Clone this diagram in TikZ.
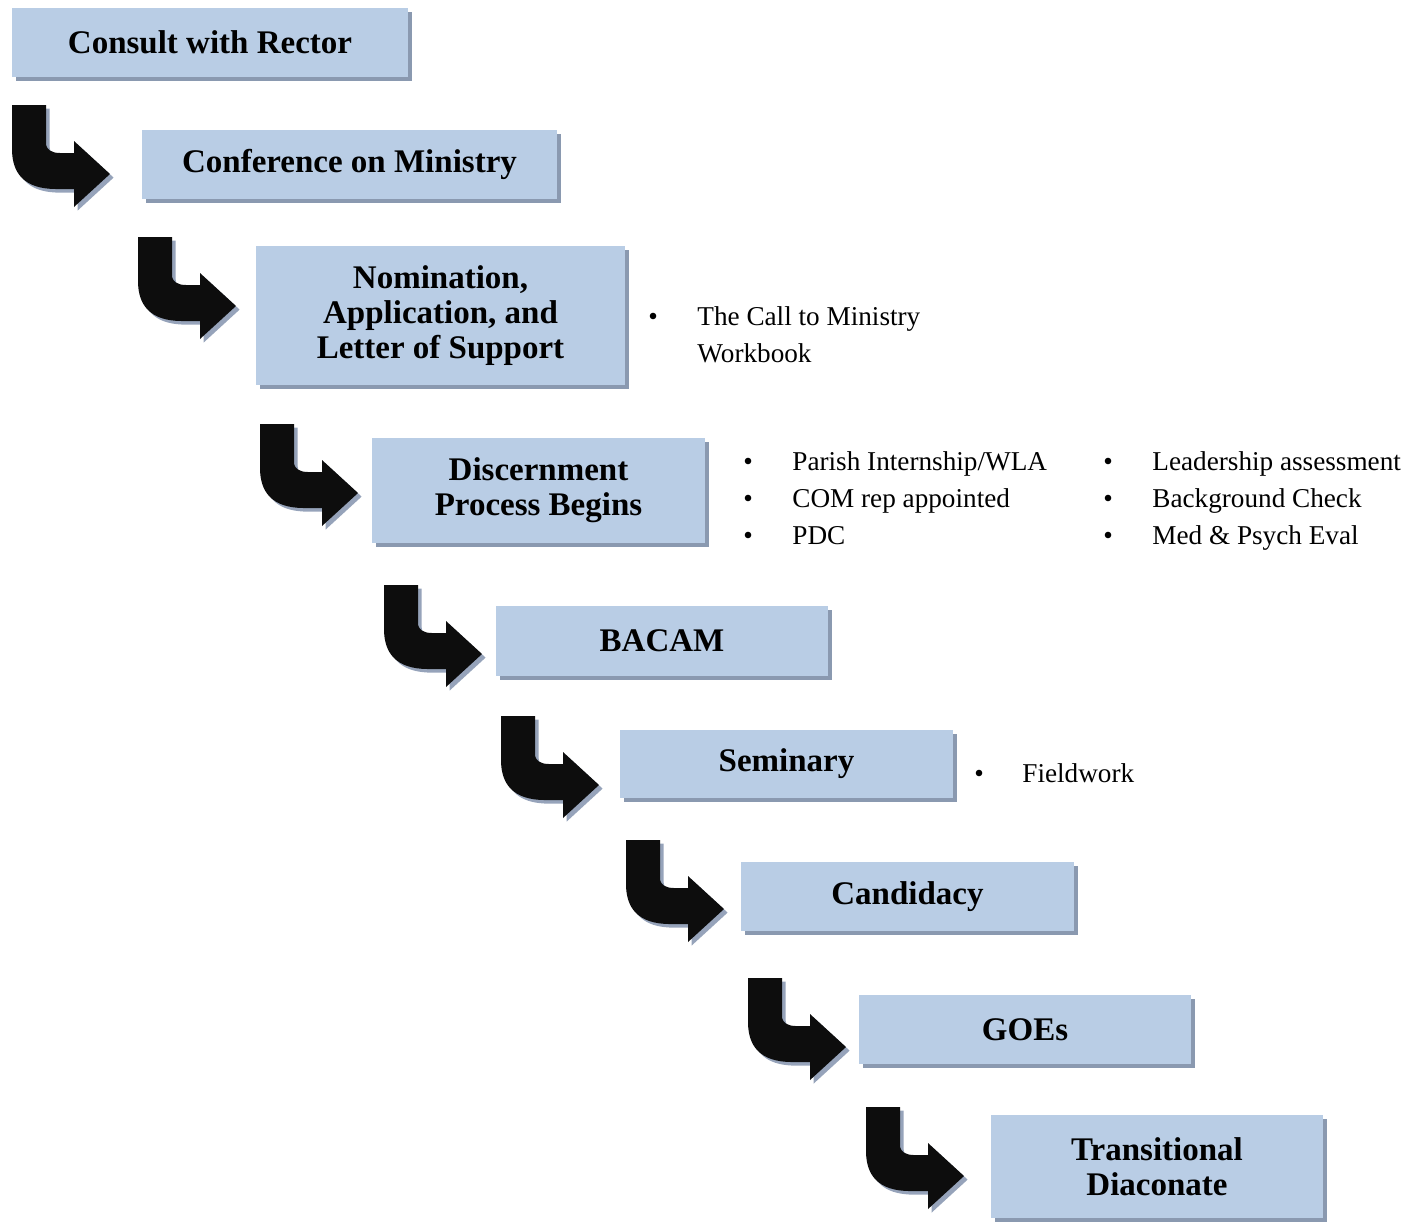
\documentclass[tikz,border=0pt]{standalone}
\usepackage{fontspec}
\setmainfont{Liberation Serif}
\usetikzlibrary{shadows}
\definecolor{boxblue}{RGB}{185,205,229}
\definecolor{boxshade}{RGB}{138,153,176}
\definecolor{arrowshade}{RGB}{150,163,186}
\definecolor{arrowblack}{RGB}{13,13,13}

\begin{document}
\begin{tikzpicture}[x=0.5pt, y=-0.5pt,
  stage/.style={fill=boxblue, inner sep=0pt, align=center,
    minimum width=166.5pt, minimum height=34.5pt,
    font=\bfseries\fontsize{16.5}{17.5}\selectfont,
    general shadow={fill=boxshade, shadow xshift=2pt, shadow yshift=-2pt}},
  dot/.style={anchor=mid, inner sep=0pt, font=\fontsize{13.6}{16}\selectfont},
  item/.style={anchor=mid west, inner sep=0pt, font=\fontsize{13.6}{16}\selectfont}]

  \useasboundingbox (0,0) rectangle (1416,1222);

  % bent arrows, stem top-left corner
  \foreach \l/\t in {12/105, 138/237, 260/424, 384/585, 501/716, 626/840, 748/978, 866/1107}
    \fill[arrowblack, shift={(\l,\t)},
      general shadow={fill=arrowshade, shadow xshift=1.8pt, shadow yshift=-1.8pt}]
      (0,0) -- (34,0) -- (34,38) .. controls (34,45) and (40,48) .. (48,48)
      -- (62,48) -- (62,36) -- (98,69) -- (62,102) -- (62,84) -- (44,84)
      .. controls (12,84) and (0,68) .. (0,44) -- cycle;

  % stages
  \node[stage, minimum width=198pt] (rector) at (210,42.5) {Consult with Rector};
  \node[stage, minimum width=207.5pt] (com) at (349.5,164.5) {Conference on Ministry};
  \node[stage, minimum width=184.5pt, minimum height=69.5pt] (nomination) at (440.5,315.5)
    {Nomination,\\ Application, and\\ Letter of Support};
  \node[stage, minimum height=52.5pt] (discern) at (538.5,490.5) {Discernment\\ Process Begins};
  \node[stage, minimum width=166pt, minimum height=35pt] (bacam) at (662,641) {BACAM};
  \node[stage, minimum height=34pt] (seminary) at (786.5,764) {Seminary};
  \node[stage] (candidacy) at (907.5,896.5) {Candidacy};
  \node[stage, minimum width=166pt] (goes) at (1025,1029.5) {GOEs};
  \node[stage, minimum width=166pt, minimum height=51.5pt] (diaconate) at (1157,1166.5)
    {Transitional\\ Diaconate};

  % notes
  \node[dot] (call-dot) at (653,321) {•};
  \node[item] (call-1) at (697,321) {The Call to Ministry};
  \node[item] (call-2) at (697,358) {Workbook};

  \foreach \txt [count=\i] in {Parish Internship/WLA, COM rep appointed, PDC} {
    \node[dot] (left-dot-\i) at (748,429+37*\i) {•};
    \node[item] (left-\i) at (792,429+37*\i) {\txt};
  }
  \foreach \txt [count=\i] in {Leadership assessment, Background Check, Med \& Psych Eval} {
    \node[dot] (right-dot-\i) at (1108,429+37*\i) {•};
    \node[item] (right-\i) at (1152,429+37*\i) {\txt};
  }

  \node[dot] (field-dot) at (979,778) {•};
  \node[item] (field) at (1022,778) {Fieldwork};

\end{tikzpicture}
\end{document}
